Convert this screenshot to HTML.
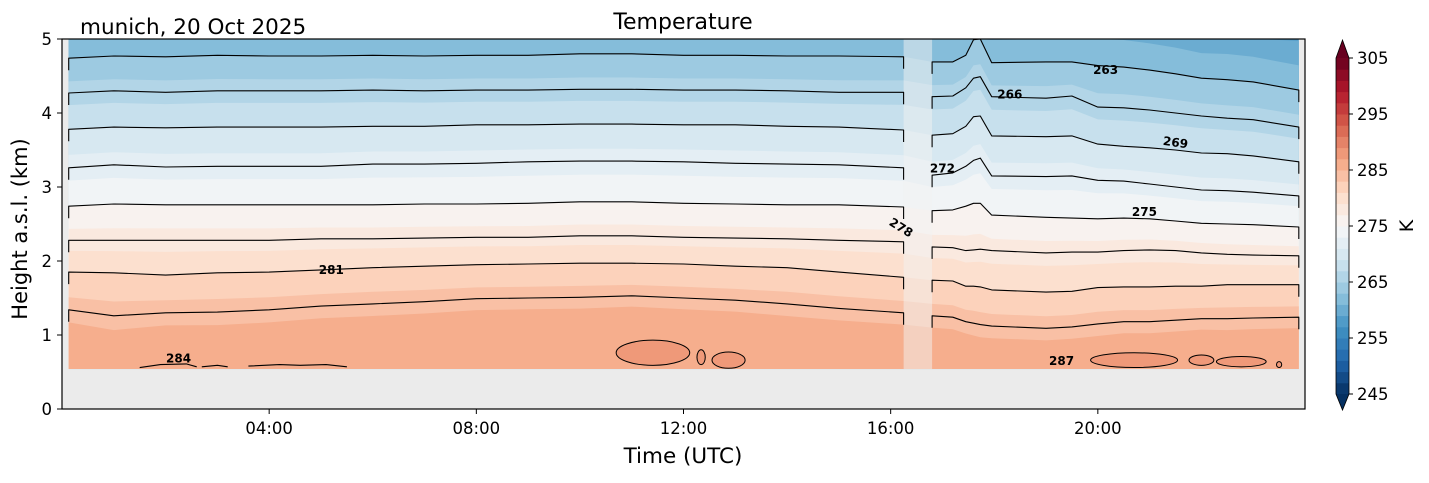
<!DOCTYPE html>
<html><head><meta charset="utf-8"><style>
body{margin:0;background:#fff;}
svg text{font-family:"DejaVu Sans","Liberation Sans",sans-serif;}
</style></head><body>
<svg id="chart" width="1429" height="478" viewBox="0 0 1429 478" xmlns="http://www.w3.org/2000/svg">
<rect x="0" y="0" width="1429" height="478" fill="#fff"/>
<text x="80" y="34" font-size="21.5">munich, 20 Oct 2025</text>
<text x="683" y="29" font-size="22" text-anchor="middle">Temperature</text>
<rect x="62" y="39" width="1243" height="370" fill="#ebebeb"/>
<g id="fills"></g>
<rect id="gap" fill="#f2f2f2" fill-opacity="0.5"/>
<g id="lines"></g>
<g id="labels"></g>
<rect x="62" y="39" width="1243" height="370" fill="none" stroke="#000" stroke-width="1.2"/>
<g id="axes"></g>
<text x="683" y="463" font-size="21.5" text-anchor="middle">Time (UTC)</text>
<text x="27" y="229" font-size="21" text-anchor="middle" transform="rotate(-90 27 229)">Height a.s.l. (km)</text>
<g id="cbar"></g>
<text x="1413" y="226" font-size="19" text-anchor="middle" transform="rotate(-90 1413 226)">K</text>
</svg>
<script>
// ---- data ----
const leftTimes=[0.13,1,2,3,4,5,6,7,8,9,10,11,12,13,14,15,16.25];
const rightTimes=[16.8,17.2,17.45,17.6,17.73,17.95,19,19.5,20,20.5,21,21.5,22,22.5,23,23.88];
const lineTemps=[263,266,269,272,275,278,281,284];
const leftHeights=[
[4.74,4.77,4.76,4.78,4.77,4.77,4.78,4.77,4.78,4.78,4.80,4.80,4.78,4.78,4.77,4.77,4.76],
[4.27,4.30,4.28,4.30,4.30,4.30,4.31,4.30,4.31,4.31,4.32,4.32,4.31,4.31,4.30,4.28,4.28],
[3.78,3.81,3.80,3.81,3.81,3.81,3.82,3.82,3.84,3.84,3.85,3.85,3.84,3.84,3.82,3.81,3.77],
[3.26,3.30,3.27,3.28,3.28,3.28,3.31,3.31,3.32,3.34,3.35,3.35,3.34,3.32,3.31,3.30,3.26],
[2.74,2.77,2.76,2.76,2.76,2.76,2.76,2.77,2.77,2.78,2.80,2.80,2.78,2.77,2.76,2.76,2.73],
[2.28,2.28,2.28,2.28,2.28,2.30,2.30,2.31,2.32,2.32,2.34,2.34,2.32,2.31,2.30,2.28,2.26],
[1.85,1.84,1.81,1.84,1.85,1.88,1.91,1.93,1.95,1.96,1.97,1.97,1.96,1.93,1.91,1.85,1.78],
[1.34,1.26,1.30,1.31,1.34,1.39,1.42,1.45,1.49,1.50,1.51,1.53,1.50,1.47,1.42,1.36,1.30]];
const rightHeights=[
[4.69,4.69,4.78,4.99,5.00,4.68,4.69,4.69,4.64,4.62,4.58,4.53,4.47,4.45,4.42,4.31],
[4.22,4.23,4.34,4.47,4.49,4.22,4.20,4.23,4.08,4.07,4.04,4.00,3.96,3.93,3.91,3.81],
[3.70,3.72,3.82,3.95,3.96,3.69,3.68,3.69,3.58,3.55,3.53,3.50,3.46,3.45,3.42,3.34],
[3.16,3.19,3.28,3.36,3.39,3.15,3.14,3.15,3.09,3.08,3.04,3.00,2.96,2.95,2.93,2.88],
[2.68,2.69,2.74,2.78,2.78,2.62,2.59,2.58,2.57,2.58,2.57,2.54,2.51,2.50,2.49,2.46],
[2.19,2.18,2.14,2.15,2.16,2.14,2.11,2.12,2.12,2.14,2.15,2.14,2.11,2.09,2.08,2.07],
[1.74,1.73,1.66,1.66,1.65,1.61,1.58,1.59,1.64,1.65,1.65,1.66,1.66,1.68,1.68,1.68],
[1.26,1.24,1.18,1.16,1.14,1.12,1.09,1.11,1.15,1.18,1.18,1.20,1.22,1.22,1.23,1.24]];
const fillLevels=[259,261,263,265,267,269,271,273,275,277,279,281,283,285];
const bottomLineTimes=[[1.5,1.9,2.4,2.6],[2.7,3.0,3.2],[3.6,4.2,4.6,5.1,5.5]];
const bottomLineHeights=[[0.56,0.60,0.61,0.57],[0.57,0.59,0.57],[0.58,0.60,0.59,0.60,0.57]];
const blobTimes=[11.41,12.34,12.87,20.7,22.0,22.77,23.5];
const blobHeights=[0.76,0.70,0.66,0.66,0.66,0.64,0.60];
const blobHalfWidths=[0.71,0.08,0.32,0.84,0.24,0.48,0.05];
const blobHalfHeights=[0.17,0.10,0.11,0.10,0.07,0.07,0.04];
const labelTexts=["284","281","278","272","266","263","269","275","287"];
const labelTimes=[2.25,5.2,16.2,17.0,18.3,20.15,21.5,20.9,19.3];
const labelHeights=[0.68,1.88,2.45,3.25,4.25,4.58,3.6,2.66,0.65];
const labelAngles=[0,0,32,0,0,0,8,0,0];
const xTickLabels=["04:00","08:00","12:00","16:00","20:00"];
const xTickHours=[4,8,12,16,20];
const yTicks=[0,1,2,3,4,5];
const cbarTicks=[245,255,265,275,285,295,305];
const dataBottom=0.54, gapStart=16.25, gapEnd=16.8;
// ---- scales ----
const X=t=>62+t*(1243/24);
const Y=h=>409-h*74;
const CB=T=>394-(T-245)*(336/60);
const stops=["#053061","#2166ac","#4393c3","#92c5de","#d1e5f0","#f7f7f7","#fddbc7","#f4a582","#d6604d","#b2182b","#67001f"];
function hex(c){return [1,3,5].map(i=>parseInt(c.substr(i,2),16));}
function cmap(v){v=Math.max(0,Math.min(1,v));const p=v*10,i=Math.min(9,Math.floor(p)),f=p-i;const a=hex(stops[i]),b=hex(stops[i+1]);return "rgb("+a.map((x,k)=>Math.round(x+(b[k]-x)*f)).join(",")+")";}
const tcol=T=>cmap((T-245)/60);
const NS="http://www.w3.org/2000/svg";
function mk(tag,attrs,parent){const e=document.createElementNS(NS,tag);for(const k in attrs)e.setAttribute(k,attrs[k]);parent.appendChild(e);return e;}
function levelHeight(H,i,T){const j=(T-263)/3;let a=Math.floor(j);a=Math.max(0,Math.min(H.length-2,a));const f=j-a;return H[a][i]+(H[a+1][i]-H[a][i])*f;}
// ---- fills ----
const fills=document.getElementById('fills');
let base=mk('rect',{x:X(leftTimes[0]),y:Y(5),width:X(rightTimes[rightTimes.length-1])-X(leftTimes[0]),height:Y(dataBottom)-Y(5),fill:tcol(fillLevels[0]-1)},fills);


fillLevels.forEach((T,k)=>{
  const pts=[];
  leftTimes.forEach((t,i)=>pts.push([X(t),Y(Math.min(5,levelHeight(leftHeights,i,T)))]));
  rightTimes.forEach((t,i)=>pts.push([X(t),Y(Math.min(5,levelHeight(rightHeights,i,T)))]));
  pts.push([X(rightTimes[rightTimes.length-1]),Y(dataBottom)]);
  pts.push([X(leftTimes[0]),Y(dataBottom)]);
  const p=mk('polygon',{points:pts.map(q=>q[0].toFixed(1)+","+q[1].toFixed(1)).join(" "),fill:tcol(T+1)},fills);
  
  
});
blobTimes.forEach((t,i)=>{
  const e=mk('ellipse',{cx:X(t),cy:Y(blobHeights[i]),rx:blobHalfWidths[i]*1243/24,ry:blobHalfHeights[i]*74,fill:tcol(288),stroke:"#000","stroke-width":1},fills);
  
  
});
const gap=document.getElementById('gap');
gap.setAttribute('x',X(gapStart));gap.setAttribute('y',Y(5));
gap.setAttribute('width',X(gapEnd)-X(gapStart));gap.setAttribute('height',Y(dataBottom)-Y(5));
// ---- contour lines ----
const lines=document.getElementById('lines');
function drawLine(times,H,name){
  const pts=times.map((t,i)=>[X(t),Y(Math.min(5,H[i]))]);
  const first=pts[0],last=pts[pts.length-1];
  const all=[[first[0],first[1]+12]].concat(pts,[[last[0],last[1]+12]]);
  const p=mk('polyline',{points:all.map(q=>q[0].toFixed(1)+","+q[1].toFixed(1)).join(" "),fill:"none",stroke:"#000","stroke-width":1.1,"stroke-linejoin":"round"},lines);
  
  
}
lineTemps.forEach((T,k)=>{drawLine(leftTimes,leftHeights[k],'contour-'+T+'-left');drawLine(rightTimes,rightHeights[k],'contour-'+T+'-right');});
bottomLineTimes.forEach((ts,k)=>{
  const p=mk('polyline',{points:ts.map((t,i)=>X(t).toFixed(1)+","+Y(bottomLineHeights[k][i]).toFixed(1)).join(" "),fill:"none",stroke:"#000","stroke-width":1.1},lines);
  
  
});
// ---- labels ----
const labels=document.getElementById('labels');
labelTexts.forEach((s,i)=>{
  const x=X(labelTimes[i]),y=Y(labelHeights[i]);
  const t=mk('text',{x:x,y:y+4,"font-size":12,"font-weight":"bold","text-anchor":"middle",transform:"rotate("+labelAngles[i]+" "+x+" "+y+")"},labels);
  t.textContent=s;
  
  
});
// ---- axes ----
const axes=document.getElementById('axes');
xTickHours.forEach((h,i)=>{
  const l=mk('line',{x1:X(h),x2:X(h),y1:409,y2:414,stroke:"#000","stroke-width":1},axes);
  
  
  const t=mk('text',{x:X(h),y:434,"font-size":16.5,"text-anchor":"middle"},axes);
  t.textContent=xTickLabels[i];
  
  
});
yTicks.forEach(v=>{
  const l=mk('line',{x1:57,x2:62,y1:Y(v),y2:Y(v),stroke:"#000","stroke-width":1},axes);
  
  
  const t=mk('text',{x:52,y:Y(v)+6,"font-size":16.5,"text-anchor":"end"},axes);
  t.textContent=String(v);
  
  
});
// ---- colorbar ----
const cbar=document.getElementById('cbar');
for(let T=245;T<305;T+=2){
  const r=mk('rect',{x:1336,y:CB(T+2),width:13,height:CB(T)-CB(T+2)+0.5,fill:tcol(T+1)},cbar);
  
  
}
let tri=mk('polygon',{points:"1336,58 1342.5,40 1349,58",fill:tcol(306)},cbar);


tri=mk('polygon',{points:"1336,394 1342.5,410 1349,394",fill:tcol(244)},cbar);


let fr=mk('polygon',{points:"1336,58 1342.5,40 1349,58 1349,394 1342.5,410 1336,394",fill:"none",stroke:"#000","stroke-width":0.8},cbar);


cbarTicks.forEach(v=>{
  const l=mk('line',{x1:1349,x2:1353,y1:CB(v),y2:CB(v),stroke:"#000","stroke-width":1},cbar);
  
  
  const t=mk('text',{x:1357,y:CB(v)+6,"font-size":16.5},cbar);
  t.textContent=String(v);
  
  
});
</script>
</body></html>
